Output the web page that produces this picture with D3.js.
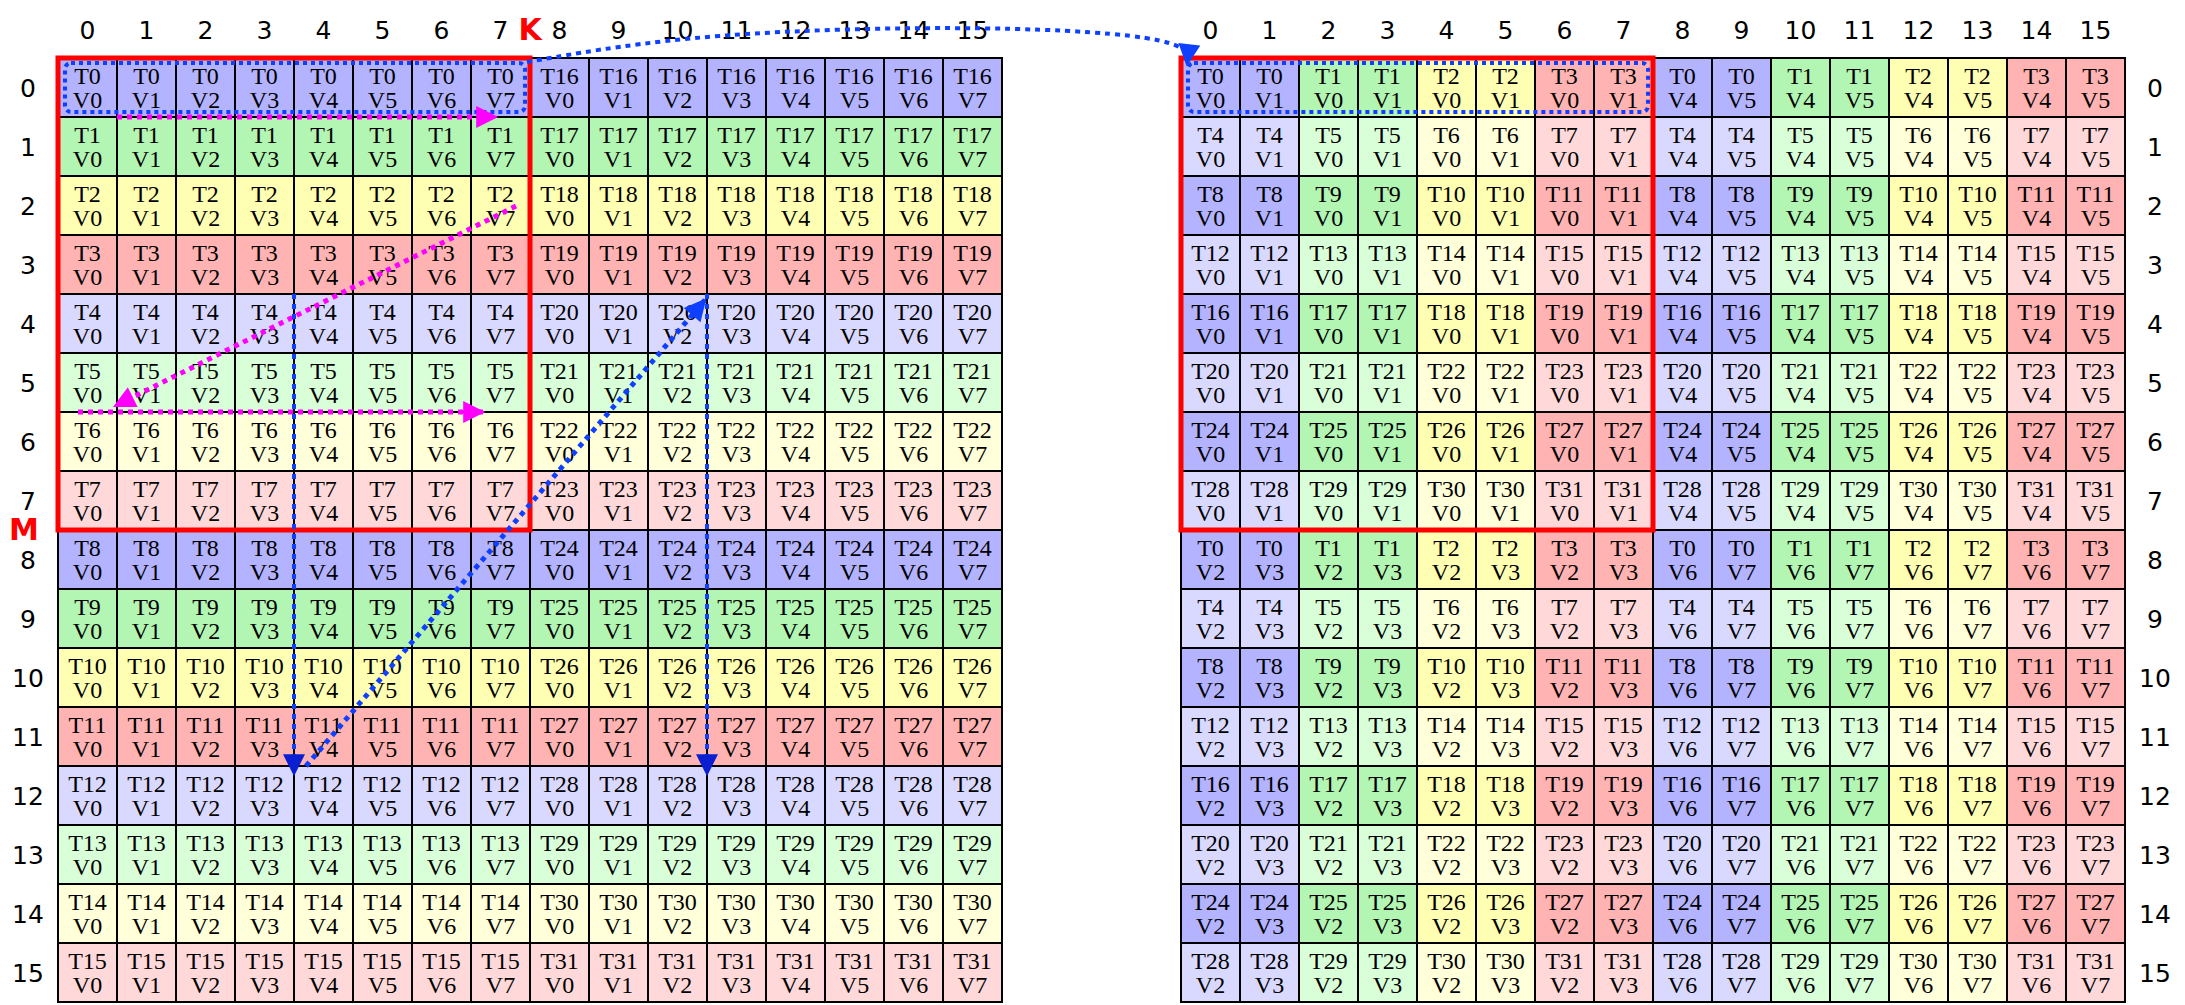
<!DOCTYPE html>
<html>
<head>
<meta charset="utf-8">
<script src="https://cdn.jsdelivr.net/npm/d3@7"></script>
<style>
  body { margin: 0; background: #fff; }
  .cell text { font-family: "Liberation Serif", "DejaVu Serif", serif; font-size: 24px; }
  .idx { font-family: "DejaVu Sans", sans-serif; font-size: 25px; }
</style>
</head>
<body>
<div id="chart"></div>
<script>
// Grid indices and tick labels
var rows = d3.range(16);
var cols = d3.range(16);
var rowLabels = rows.map(String);
var colLabels = cols.map(String);

// Thread colour: palette by thread % 4, shade by (thread / 4) % 2
var darkColors = ["#b3b3ff", "#b3f5b3", "#ffffb3", "#ffb3b3"];
var lightColors = ["#d9d9ff", "#d9ffd9", "#ffffd9", "#ffd9d9"];

// Left layout: row r, col c -> thread / value
function leftCell(r, c) {
  return { t: c < 8 ? r : r + 16, v: c % 8 };
}
// Right layout (swizzled)
function rightCell(r, c) {
  var t = 4 * (r % 8) + Math.floor((c % 8) / 2);
  var v = (c % 2) + (r >= 8 ? 2 : 0) + (c >= 8 ? 4 : 0);
  return { t: t, v: v };
}

var svgWidth = 2185, svgHeight = 1005;
var cellSize = 59;

var svg = d3.select("#chart").append("svg")
  .attr("width", svgWidth).attr("height", svgHeight);

var defs = svg.append("defs");
function marker(id, color) {
  defs.append("marker").attr("id", id)
    .attr("viewBox", "0 0 10 10").attr("refX", 9).attr("refY", 5)
    .attr("markerWidth", 26).attr("markerHeight", 22)
    .attr("markerUnits", "userSpaceOnUse").attr("orient", "auto")
    .append("path").attr("d", "M0,0 L10,5 L0,10 z").attr("fill", color);
}
marker("mag", "#ff00ff");
marker("blue", "#0a1fd0");
marker("blue2", "#1040ff");

function drawGrid(x0, y0, cellFn, labelRight) {
  var x = d3.scaleBand().domain(cols).range([x0, x0 + 16 * cellSize]);
  var y = d3.scaleBand().domain(rows).range([y0, y0 + 16 * cellSize]);
  var g = svg.append("g");
  var cells = [];
  rows.forEach(function(r) { cols.forEach(function(c) { cells.push({ r: r, c: c, d: cellFn(r, c) }); }); });

  var cg = g.selectAll("g.cell").data(cells).enter().append("g").attr("class", "cell");
  cg.append("rect")
    .attr("x", function(d) { return x(d.c); })
    .attr("y", function(d) { return y(d.r); })
    .attr("width", cellSize).attr("height", cellSize)
    .attr("fill", function(d) {
      var t = d.d.t;
      return (Math.floor(t / 4) % 2 === 0 ? darkColors : lightColors)[t % 4];
    })
    .attr("stroke", "#000").attr("stroke-width", 2);
  cg.append("text")
    .attr("x", function(d) { return x(d.c) + cellSize / 2; })
    .attr("y", function(d) { return y(d.r) + 26; })
    .attr("text-anchor", "middle")
    .text(function(d) { return "T" + d.d.t; });
  cg.append("text")
    .attr("x", function(d) { return x(d.c) + cellSize / 2; })
    .attr("y", function(d) { return y(d.r) + 50; })
    .attr("text-anchor", "middle")
    .text(function(d) { return "V" + d.d.v; });

  // column tick labels
  g.selectAll("text.cl").data(cols).enter().append("text")
    .attr("class", "idx")
    .attr("x", function(c) { return x(c) + cellSize / 2; })
    .attr("y", y0 - 19)
    .attr("text-anchor", "middle")
    .text(function(c) { return colLabels[c]; });
  // row tick labels
  g.selectAll("text.rl").data(rows).enter().append("text")
    .attr("class", "idx")
    .attr("x", labelRight ? x0 + 16 * cellSize + 30 : x0 - 30)
    .attr("y", function(r) { return y(r) + cellSize / 2 + 9; })
    .attr("text-anchor", "middle")
    .text(function(r) { return rowLabels[r]; });

  // red 8x8 tile box
  g.append("rect")
    .attr("x", x(0)).attr("y", y(0))
    .attr("width", 8 * cellSize).attr("height", 8 * cellSize)
    .attr("fill", "none").attr("stroke", "#ff0000").attr("stroke-width", 5);

  // blue dotted rounded box around first row of the tile
  g.append("rect")
    .attr("x", x(0) + 7).attr("y", y(0) + 5)
    .attr("width", 8 * cellSize - 12).attr("height", cellSize - 10)
    .attr("rx", 6)
    .attr("fill", "none").attr("stroke", "#1040ff")
    .attr("stroke-width", 4).attr("stroke-dasharray", "4,4");

  return { x: x, y: y };
}

var L = drawGrid(58, 58, leftCell, false);
var R = drawGrid(1181, 58, rightCell, true);

// K and M labels
svg.append("text").attr("x", L.x(8)).attr("y", 40)
  .attr("text-anchor", "middle").attr("fill", "#ff0000")
  .attr("font-family", "DejaVu Sans, sans-serif").attr("font-weight", "bold").attr("font-size", 30)
  .text("K");
svg.append("text").attr("x", 24).attr("y", L.y(8) + 10)
  .attr("text-anchor", "middle").attr("fill", "#ff0000")
  .attr("font-family", "DejaVu Sans, sans-serif").attr("font-weight", "bold").attr("font-size", 30)
  .text("M");

function line(pts, color, mk, w) {
  svg.append("path")
    .attr("d", d3.line()(pts))
    .attr("fill", "none").attr("stroke", color)
    .attr("stroke-width", w || 5).attr("stroke-dasharray", "5,5")
    .attr("marker-end", "url(#" + mk + ")");
}

// magenta traversal
line([[L.x(1), L.y(1)], [L.x(7) + 25, L.y(1)]], "#ff00ff", "mag", 5);
line([[L.x(7) + 45, L.y(2) + 30], [L.x(1) - 2, L.y(6) - 6]], "#ff00ff", "mag", 5);
line([[L.x(0) + 20, L.y(6)], [L.x(7) + 12, L.y(6)]], "#ff00ff", "mag", 5);

// blue traversal
line([[L.x(4), L.y(4)], [L.x(4), L.y(12) + 8]], "#1040ff", "blue", 4);
line([[L.x(4) + 12, L.y(12)], [L.x(11) - 2, L.y(4) + 6]], "#1040ff", "blue2", 5);
line([[L.x(11), L.y(4)], [L.x(11), L.y(12) + 8]], "#1040ff", "blue", 4);

// curved arrow from left tile row to right tile row
svg.append("path")
  .attr("d", d3.line().curve(d3.curveBasis)([[527, 62], [700, 32], [1000, 25], [1190, 38], [R.x(0) + 6, R.y(0) + 6]]))
  .attr("fill", "none").attr("stroke", "#1040ff")
  .attr("stroke-width", 4).attr("stroke-dasharray", "5,5")
  .attr("marker-end", "url(#blue2)");
</script>
</body>
</html>
